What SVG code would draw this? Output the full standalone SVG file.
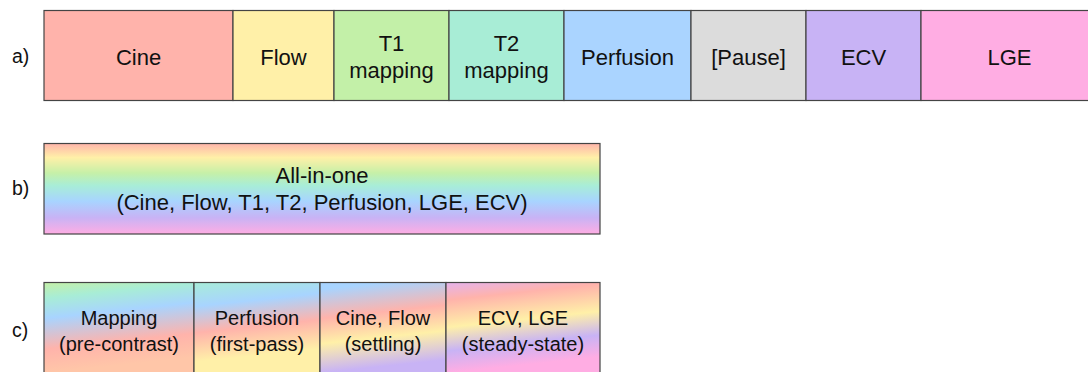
<svg xmlns="http://www.w3.org/2000/svg" width="1088" height="372" viewBox="0 0 1088 372">
<defs>
<style>
.box{stroke:#444;stroke-width:1.2}
.t{font-family:"Liberation Sans",Arial,Helvetica,sans-serif;font-size:22px;fill:#111;text-anchor:middle}
.tc{font-family:"Liberation Sans",Arial,Helvetica,sans-serif;font-size:20px;fill:#111;text-anchor:middle}
.lbl{font-family:"Liberation Sans",Arial,Helvetica,sans-serif;font-size:19.5px;fill:#111}
</style>
<linearGradient id="gb" x1="0" y1="143" x2="0" y2="234" gradientUnits="userSpaceOnUse">
<stop offset="0" stop-color="#FFB3AB"/>
<stop offset="0.16" stop-color="#FFF0A8"/>
<stop offset="0.33" stop-color="#C6F0A8"/>
<stop offset="0.47" stop-color="#A8EDD8"/>
<stop offset="0.64" stop-color="#A8D4FF"/>
<stop offset="0.82" stop-color="#C8B3F5"/>
<stop offset="1" stop-color="#FFADE3"/>
</linearGradient>
<linearGradient id="gc1" x1="44" y1="282" x2="53.5" y2="372" gradientUnits="userSpaceOnUse">
<stop offset="0" stop-color="#C6F0A6"/>
<stop offset="0.18" stop-color="#A8EDD6"/>
<stop offset="0.4" stop-color="#A8D4FF"/>
<stop offset="0.74" stop-color="#FFB3AB"/>
<stop offset="1" stop-color="#FFC6A8"/>
</linearGradient>
<linearGradient id="gc2" x1="194" y1="282" x2="203.5" y2="372" gradientUnits="userSpaceOnUse">
<stop offset="0" stop-color="#A8EDD8"/>
<stop offset="0.27" stop-color="#A8D4FF"/>
<stop offset="0.56" stop-color="#FFB3AB"/>
<stop offset="0.88" stop-color="#FFF0A8"/>
<stop offset="1" stop-color="#FFF0A8"/>
</linearGradient>
<linearGradient id="gc3" x1="320" y1="282" x2="329.5" y2="372" gradientUnits="userSpaceOnUse">
<stop offset="0" stop-color="#A8D4FF"/>
<stop offset="0.08" stop-color="#A8D4FF"/>
<stop offset="0.4" stop-color="#FFB3AB"/>
<stop offset="0.68" stop-color="#FFF0A8"/>
<stop offset="1" stop-color="#C8B3F5"/>
</linearGradient>
<linearGradient id="gc4" x1="446" y1="282" x2="455.5" y2="372" gradientUnits="userSpaceOnUse">
<stop offset="0" stop-color="#E4B3EE"/>
<stop offset="0.2" stop-color="#FFB3AB"/>
<stop offset="0.5" stop-color="#FFF0A8"/>
<stop offset="0.76" stop-color="#C8B3F5"/>
<stop offset="1" stop-color="#FFADE3"/>
</linearGradient>
</defs>
<rect width="1088" height="372" fill="#FFFFFF"/>

<g id="labels">
<text class="lbl" x="12" y="63">a)</text>
<text class="lbl" x="12" y="195">b)</text>
<text class="lbl" x="12" y="337">c)</text>
</g>

<g id="row-a">
<g id="a-cine"><rect class="box" x="44" y="10.5" width="189" height="90" fill="#FFB3AB"/><text class="t" x="138.5" y="65">Cine</text></g>
<g id="a-flow"><rect class="box" x="233" y="10.5" width="101" height="90" fill="#FFF0A8"/><text class="t" x="283.5" y="65">Flow</text></g>
<g id="a-t1"><rect class="box" x="334" y="10.5" width="115" height="90" fill="#C3F0A8"/><text class="t" x="391.5" y="51">T1</text><text class="t" x="391.5" y="77.5">mapping</text></g>
<g id="a-t2"><rect class="box" x="449" y="10.5" width="115" height="90" fill="#A8EDD6"/><text class="t" x="506.5" y="51">T2</text><text class="t" x="506.5" y="77.5">mapping</text></g>
<g id="a-perfusion"><rect class="box" x="564" y="10.5" width="127" height="90" fill="#AAD4FF"/><text class="t" x="627.5" y="65">Perfusion</text></g>
<g id="a-pause"><rect class="box" x="691" y="10.5" width="115" height="90" fill="#DCDCDC"/><text class="t" x="748.5" y="65">[Pause]</text></g>
<g id="a-ecv"><rect class="box" x="806" y="10.5" width="115" height="90" fill="#C8B3F5"/><text class="t" x="863.5" y="65">ECV</text></g>
<g id="a-lge"><rect class="box" x="921" y="10.5" width="177" height="90" fill="#FFADE3"/><text class="t" x="1009.5" y="65">LGE</text></g>
</g>

<g id="row-b">
<g id="b-allinone"><rect class="box" x="44" y="143.5" width="556" height="90.5" fill="url(#gb)"/><text class="t" x="322" y="183">All-in-one</text><text class="t" x="322" y="209.5">(Cine, Flow, T1, T2, Perfusion, LGE, ECV)</text></g>
</g>

<g id="row-c">
<g id="c-mapping"><rect class="box" x="44" y="282.5" width="150" height="100" fill="url(#gc1)"/><text class="tc" x="119" y="325">Mapping</text><text class="tc" x="119" y="350.5">(pre-contrast)</text></g>
<g id="c-perfusion"><rect class="box" x="194" y="282.5" width="126" height="100" fill="url(#gc2)"/><text class="tc" x="257" y="325">Perfusion</text><text class="tc" x="257" y="350.5">(first-pass)</text></g>
<g id="c-cineflow"><rect class="box" x="320" y="282.5" width="126" height="100" fill="url(#gc3)"/><text class="tc" x="383" y="325">Cine, Flow</text><text class="tc" x="383" y="350.5">(settling)</text></g>
<g id="c-ecvlge"><rect class="box" x="446" y="282.5" width="154" height="100" fill="url(#gc4)"/><text class="tc" x="523" y="325">ECV, LGE</text><text class="tc" x="523" y="350.5">(steady-state)</text></g>
</g>
</svg>
